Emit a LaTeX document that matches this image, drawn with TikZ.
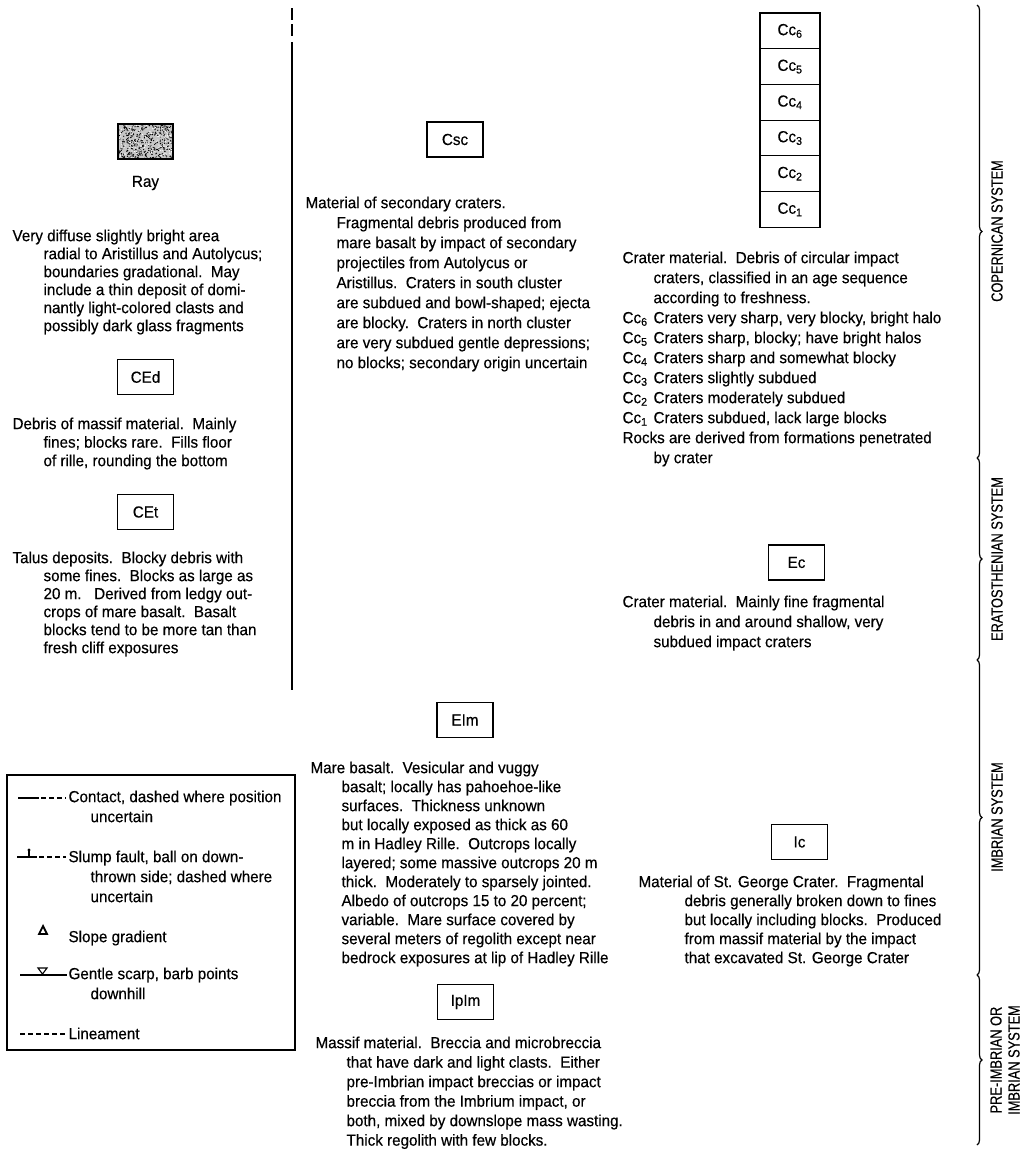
\documentclass[tikz,border=0pt]{standalone}
\usepackage{fontspec}
\setmainfont[FakeStretch=0.95, FakeBold=0.4]{Liberation Sans}
\newfontfamily\sysfont[FakeStretch=0.8, FakeBold=0.4]{Liberation Sans}
\usetikzlibrary{positioning,decorations.pathreplacing}

\tikzset{
  unit/.style={draw, line width=1.2pt, minimum width=56pt, minimum height=35pt, inner sep=0pt, font=\fontsize{16}{20}\selectfont},
  ccbox/.style={unit, minimum width=60pt, minimum height=35.7pt, outer sep=0pt},
  desc/.style={anchor=north west, align=left, inner sep=0pt, font=\fontsize{16}{20}\selectfont},
  sysname/.style={rotate=90, align=center, inner sep=0pt, font=\sysfont\fontsize{16}{18}\selectfont},
  bracket/.style={decorate, decoration={brace, amplitude=5pt}, line width=1.2pt},
}
\newcommand{\hg}{\hspace*{31pt}}
\newcommand{\cc}[1]{\makebox[31pt][l]{Cc\textsubscript{#1}}}

\begin{document}
\begin{tikzpicture}[x=1pt, y=-1pt, line width=1.1pt]
  \useasboundingbox (0,0) rectangle (1028,1151);

  % 1. left column: ray, debris, talus
  \draw (292,8) -- (292,20);
  \draw (292,24) -- (292,36);
  \draw (292,42) -- (292,690);
  \begin{scope}
    \clip (118,124) rectangle (173,159);
    \fill[gray!45] (118,124) rectangle (173,159);
    \pgfmathsetseed{17}
    \foreach \i in {1,...,420}
      \fill ({118+55*rnd},{124+35*rnd}) circle (0.65pt);
    \foreach \i in {1,...,160}
      \fill[white] ({118+55*rnd},{124+35*rnd}) circle (0.6pt);
  \end{scope}
  \node[unit, minimum width=55pt] (ray) at (145.5,141.5) {};
  \node[desc, anchor=center] (rayName) at (145.5,183) {Ray};
  \node[desc, font=\fontsize{16}{18}\selectfont] (rayText) at (12,229) {Very diffuse slightly bright area\\
    \hg radial to Aristillus and Autolycus;\\
    \hg boundaries gradational.\ \ May\\
    \hg include a thin deposit of domi-\\
    \hg nantly light-colored clasts and\\
    \hg possibly dark glass fragments};

  \node[unit] (CEd) at (145.5,377) {CEd};
  \node[desc, font=\fontsize{16}{18.5}\selectfont] (CEdText) at (12,417) {Debris of massif material.\ \ Mainly\\
    \hg fines; blocks rare.\ \ Fills floor\\
    \hg of rille, rounding the bottom};

  \node[unit] (CEt) at (145.5,512) {CEt};
  \node[desc, font=\fontsize{16}{18}\selectfont] (CEtText) at (12,551) {Talus deposits.\ \ Blocky debris with\\
    \hg some fines.\ \ Blocks as large as\\
    \hg 20 m.\ \ \ Derived from ledgy out-\\
    \hg crops of mare basalt.\ \ Basalt\\
    \hg blocks tend to be more tan than\\
    \hg fresh cliff exposures};

  % 2. middle column: secondary craters, mare basalt, massif
  \node[unit] (Csc) at (455,139.5) {Csc};
  \node[desc] (CscText) at (305,196) {Material of secondary craters.\\
    \hg Fragmental debris produced from\\
    \hg mare basalt by impact of secondary\\
    \hg projectiles from Autolycus or\\
    \hg Aristillus.\ \ Craters in south cluster\\
    \hg are subdued and bowl-shaped; ejecta\\
    \hg are blocky.\ \ Craters in north cluster\\
    \hg are very subdued gentle depressions;\\
    \hg no blocks; secondary origin uncertain};

  \node[unit] (EIm) at (465,720) {EIm};
  \node[desc, font=\fontsize{16}{19}\selectfont] (EImText) at (310,761) {Mare basalt.\ \ Vesicular and vuggy\\
    \hg basalt; locally has pahoehoe-like\\
    \hg surfaces.\ \ Thickness unknown\\
    \hg but locally exposed as thick as 60\\
    \hg m in Hadley Rille.\ \ Outcrops locally\\
    \hg layered; some massive outcrops 20 m\\
    \hg thick.\ \ Moderately to sparsely jointed.\\
    \hg Albedo of outcrops 15 to 20 percent;\\
    \hg variable.\ \ Mare surface covered by\\
    \hg several meters of regolith except near\\
    \hg bedrock exposures at lip of Hadley Rille};

  \node[unit] (IpIm) at (465.5,1002) {IpIm};
  \node[desc, font=\fontsize{16}{19.5}\selectfont] (IpImText) at (315,1036) {Massif material.\ \ Breccia and microbreccia\\
    \hg that have dark and light clasts.\ \ Either\\
    \hg pre-Imbrian impact breccias or impact\\
    \hg breccia from the Imbrium impact, or\\
    \hg both, mixed by downslope mass wasting.\\
    \hg Thick regolith with few blocks.};

  % 3. right column: crater materials
  \node[ccbox] (Cc6) at (790,30.9) {Cc\textsubscript{6}};
  \node[ccbox, below=0pt of Cc6] (Cc5) {Cc\textsubscript{5}};
  \node[ccbox, below=0pt of Cc5] (Cc4) {Cc\textsubscript{4}};
  \node[ccbox, below=0pt of Cc4] (Cc3) {Cc\textsubscript{3}};
  \node[ccbox, below=0pt of Cc3] (Cc2) {Cc\textsubscript{2}};
  \node[ccbox, below=0pt of Cc2] (Cc1) {Cc\textsubscript{1}};
  \node[desc] (CcText) at (622,251) {Crater material.\ \ Debris of circular impact\\
    \hg craters, classified in an age sequence\\
    \hg according to freshness.\\
    \cc{6}Craters very sharp, very blocky, bright halo\\
    \cc{5}Craters sharp, blocky; have bright halos\\
    \cc{4}Craters sharp and somewhat blocky\\
    \cc{3}Craters slightly subdued\\
    \cc{2}Craters moderately subdued\\
    \cc{1}Craters subdued, lack large blocks\\
    Rocks are derived from formations penetrated\\
    \hg by crater};

  \node[unit] (Ec) at (796.5,562.5) {Ec};
  \node[desc] (EcText) at (622,595) {Crater material.\ \ Mainly fine fragmental\\
    \hg debris in and around shallow, very\\
    \hg subdued impact craters};

  \node[unit] (Ic) at (799.5,842) {Ic};
  \node[desc, font=\fontsize{16}{19}\selectfont] (IcText) at (638,875) {Material of St. George Crater.\ \ Fragmental\\
    \hspace*{46pt}debris generally broken down to fines\\
    \hspace*{46pt}but locally including blocks.\ \ Produced\\
    \hspace*{46pt}from massif material by the impact\\
    \hspace*{46pt}that excavated St. George Crater};

  % 4. legend box with map symbols
  \draw (7,775) rectangle (295,1050);
  \draw (18,798) -- (39,798);
  \draw[dash pattern=on 5pt off 3pt] (41,798) -- (66,798);
  \node[desc] (contact) at (68,790) {Contact, dashed where position\\
    \hspace*{22pt}uncertain};

  \draw (17,857) -- (37,857);
  \draw (29,857) -- (29,851);
  \fill (29,850) circle (1.7pt);
  \draw[dash pattern=on 5pt off 3pt] (39,857) -- (66,857);
  \node[desc] (slump) at (68,850) {Slump fault, ball on down-\\
    \hspace*{22pt}thrown side; dashed where\\
    \hspace*{22pt}uncertain};

  \draw[line width=1.8pt] (39,934) -- (47,934) -- (43,926) -- cycle;
  \node[desc] (slope) at (68,930) {Slope gradient};

  \draw (20,975) -- (67,975);
  \draw (38,968) -- (47,968) -- (42.5,974) -- cycle;
  \node[desc] (scarp) at (68,967) {Gentle scarp, barb points\\
    \hspace*{22pt}downhill};

  \draw[dash pattern=on 5pt off 3pt] (20,1034) -- (67,1034);
  \node[desc] (lineament) at (68,1027) {Lineament};

  % 5. time-stratigraphic brackets at right
  \coordinate (b0) at (977,5);
  \coordinate (b1) at (977,458);
  \coordinate (b2) at (977,660);
  \coordinate (b3) at (977,975);
  \coordinate (b4) at (977,1145);
  \draw[bracket] (b0) -- (b1);
  \draw[bracket] (b1) -- (b2);
  \draw[bracket] (b2) -- (b3);
  \draw[bracket] (b3) -- (b4);
  \node[sysname] (cop) at (997,231) {COPERNICAN SYSTEM};
  \node[sysname] (era) at (997,559) {ERATOSTHENIAN SYSTEM};
  \node[sysname] (imb) at (997,817) {IMBRIAN SYSTEM};
  \node[sysname] (pre) at (1005,1060) {PRE-IMBRIAN OR\\IMBRIAN SYSTEM};

\end{tikzpicture}
\end{document}
